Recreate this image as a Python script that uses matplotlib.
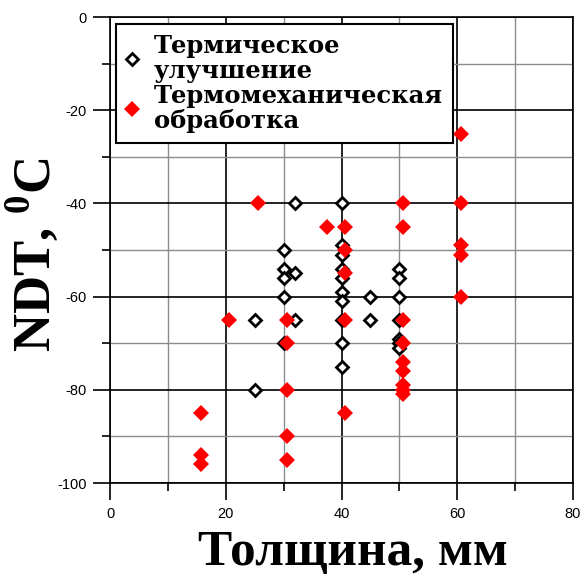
import matplotlib
matplotlib.use("Agg")
import matplotlib.pyplot as plt
from matplotlib.ticker import MultipleLocator

# thickness (mm) and NDT (C) for quenched + tempered plates
tu_thick = [32, 40, 40, 30, 40, 30, 40, 50, 32, 30, 40, 50, 40, 30, 45, 50, 40,
            25, 32, 40, 45, 50, 30, 40, 50, 50, 50, 40, 25]
tu_ndt = [-40, -40, -49, -50, -51, -54, -54, -54, -55, -56, -56, -56, -59, -60, -60, -60, -61,
          -65, -65, -65, -65, -65, -70, -70, -69, -70, -71, -75, -80]

# thickness (mm) and NDT (C) for thermomechanically processed plates
tmo_thick = [60.6, 25.6, 50.7, 60.6, 37.5, 40.6, 50.7, 60.6, 40.6, 60.6, 40.6, 60.6,
             20.6, 30.6, 40.6, 50.7, 30.6, 50.7, 50.7, 50.7, 50.7, 50.7, 50.7, 30.6,
             15.7, 40.6, 30.6, 15.7, 30.6, 15.7]
tmo_ndt = [-25, -40, -40, -40, -45, -45, -45, -49, -50, -51, -55, -60,
           -65, -65, -65, -65, -70, -70, -74, -76, -79, -80, -81, -80,
           -85, -85, -90, -94, -95, -96]

label_font = {"family": "Liberation Serif", "weight": "bold"}
plt.rcParams["font.family"] = "Liberation Sans"
plt.rcParams["axes.unicode_minus"] = False
plt.rcParams["mathtext.fontset"] = "custom"
plt.rcParams["mathtext.rm"] = "Liberation Serif:bold"
plt.rcParams["mathtext.bf"] = "Liberation Serif:bold"

fig = plt.figure(figsize=(5.84, 5.75), dpi=100)
ax = fig.add_axes([0.1884, 0.16, 0.7928, 0.8104])

ax.plot(tu_thick, tu_ndt, linestyle="none", marker="D", markersize=6.5,
        markerfacecolor="white", markeredgecolor="black", markeredgewidth=2,
        label="Термическое\nулучшение", zorder=3)
ax.plot(tmo_thick, tmo_ndt, linestyle="none", marker="D", markersize=8,
        color="#ff0000", markeredgewidth=0, label="Термомеханическая\nобработка", zorder=4)

ax.set_xlim(0, 80)
ax.set_ylim(-100, 0)
ax.xaxis.set_major_locator(MultipleLocator(20))
ax.xaxis.set_minor_locator(MultipleLocator(10))
ax.yaxis.set_major_locator(MultipleLocator(20))
ax.yaxis.set_minor_locator(MultipleLocator(10))
ax.tick_params(which="major", direction="out", length=12, width=1.2, labelsize=10.5, pad=5)
ax.tick_params(which="minor", direction="out", length=6, width=1.2)

ax.grid(which="major", color="black", linewidth=1.2, zorder=0)
ax.grid(which="minor", color="#8c8c8c", linewidth=1.0, zorder=0)
ax.set_axisbelow(True)
for sp in ax.spines.values():
    sp.set_linewidth(1.2)

ax.set_xlabel("Толщина, мм", fontsize=37, **label_font)
ax.xaxis.set_label_coords(0.525, -0.176)
ax.xaxis.label.set_va("baseline")
ax.set_ylabel(r"NDT, $^{0}$C", fontsize=38, **label_font)
ax.yaxis.set_label_coords(-0.131, 0.489)
ax.yaxis.label.set_va("baseline")

leg = ax.legend(loc="upper left", bbox_to_anchor=(0.013, 0.985), borderaxespad=0,
                frameon=True, fancybox=False, edgecolor="black", framealpha=1,
                prop={"family": "DejaVu Serif", "weight": "bold", "size": 17.5},
                handlelength=0.55, handletextpad=0.6, labelspacing=0.05,
                borderpad=0.4)
leg.get_frame().set_linewidth(1.5)
for t in leg.get_texts():
    t.set_linespacing(1.05)

fig.savefig("out.png", dpi=100)
